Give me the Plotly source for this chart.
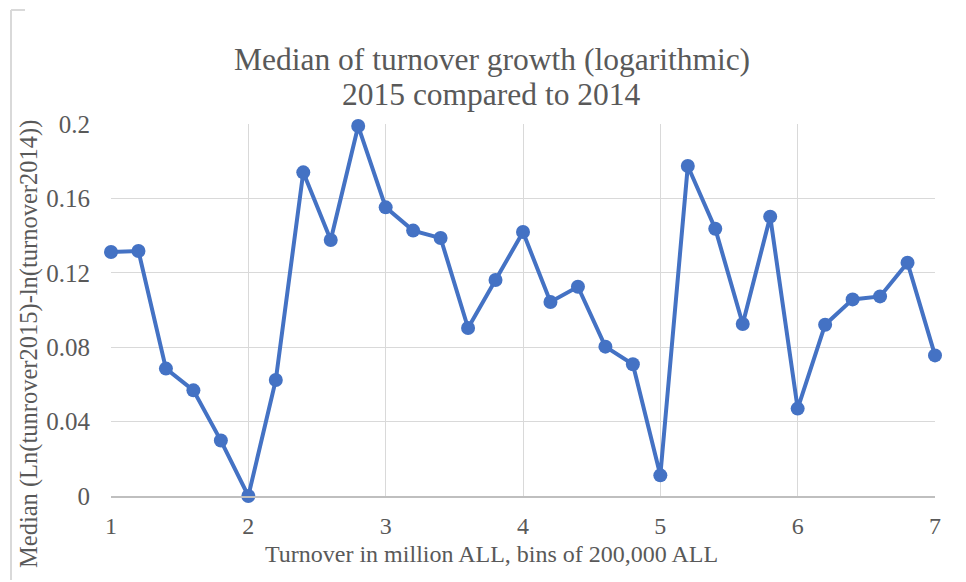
import plotly.graph_objects as go

# Data
bins = [1.0, 1.2, 1.4, 1.6, 1.8, 2.0, 2.2, 2.4, 2.6, 2.8, 3.0, 3.2, 3.4, 3.6, 3.8, 4.0,
        4.2, 4.4, 4.6, 4.8, 5.0, 5.2, 5.4, 5.6, 5.8, 6.0, 6.2, 6.4, 6.6, 6.8, 7.0]
median_growth = [0.1312, 0.1317, 0.0685, 0.0568, 0.0298, 0.0, 0.0624, 0.1740, 0.1376, 0.1989,
                 0.1552, 0.1427, 0.1387, 0.0903, 0.1161, 0.1419, 0.1043, 0.1125, 0.0803, 0.0708,
                 0.0111, 0.1774, 0.1437, 0.0925, 0.1502, 0.0470, 0.0921, 0.1057, 0.1073, 0.1254,
                 0.0756]
x_ticks = [1, 2, 3, 4, 5, 6, 7]
y_ticks = [0, 0.04, 0.08, 0.12, 0.16, 0.2]
y_tick_labels = ["0", "0.04", "0.08", "0.12", "0.16", "0.2"]

title_lines = ["Median of turnover growth (logarithmic)", "2015 compared to 2014"]
x_title = "Turnover in million ALL, bins of 200,000 ALL"
y_title = "Median (Ln(tunrover2015)-ln(turnover2014))"

W, H = 966, 582
L, R, T, B = 111, 31, 124, 86
pw, ph = W - L - R, H - T - B

def px_x(p):
    return (p - L) / pw

def px_y(p):
    return (H - B - p) / ph

FONT = "Liberation Serif"
GRAY = "#595959"
BLUE = "#4472C4"

fig = go.Figure()
fig.add_trace(go.Scatter(
    x=bins, y=median_growth, mode="lines+markers",
    line=dict(color=BLUE, width=4),
    marker=dict(color=BLUE, size=14),
    cliponaxis=False, showlegend=False,
))

fig.update_layout(
    width=W, height=H,
    margin=dict(l=L, r=R, t=T, b=B),
    paper_bgcolor="white", plot_bgcolor="white",
    font=dict(family=FONT, color=GRAY),
    xaxis=dict(range=[1, 7], tickvals=x_ticks, ticktext=[str(v) for v in x_ticks],
               showgrid=True, gridcolor="#D9D9D9", gridwidth=1.3, zeroline=False,
               showline=True, linecolor="#BFBFBF", linewidth=1.5,
               ticks="outside", ticklen=7, tickcolor="rgba(0,0,0,0)",
               tickfont=dict(size=24, color=GRAY, family=FONT)),
    yaxis=dict(range=[0, 0.2], tickvals=y_ticks, ticktext=y_tick_labels,
               showgrid=True, gridcolor="#D9D9D9", gridwidth=1.3, zeroline=False,
               showline=False,
               ticks="outside", ticklen=15, tickcolor="rgba(0,0,0,0)",
               tickfont=dict(size=25, color=GRAY, family=FONT)),
    annotations=[
        dict(text=title_lines[0], xref="paper", yref="paper",
             x=px_x(492), y=px_y(60), xanchor="center", yanchor="middle",
             showarrow=False, font=dict(size=31.5, color=GRAY, family=FONT)),
        dict(text=title_lines[1], xref="paper", yref="paper",
             x=px_x(491), y=px_y(94), xanchor="center", yanchor="middle",
             showarrow=False, font=dict(size=31.5, color=GRAY, family=FONT)),
        dict(text=x_title, xref="paper", yref="paper",
             x=px_x(491), y=px_y(554), xanchor="center", yanchor="middle",
             showarrow=False, font=dict(size=24, color=GRAY, family=FONT)),
        dict(text=y_title, xref="paper", yref="paper", textangle=-90,
             x=px_x(29), y=px_y(344), xanchor="center", yanchor="middle",
             showarrow=False, font=dict(size=24.5, color=GRAY, family=FONT)),
    ],
    shapes=[
        dict(type="line", xref="paper", yref="paper",
             x0=px_x(11), x1=px_x(11), y0=px_y(10), y1=px_y(580),
             line=dict(color="#D9D9D9", width=2)),
        dict(type="line", xref="paper", yref="paper",
             x0=px_x(11), x1=px_x(25), y0=px_y(10), y1=px_y(10),
             line=dict(color="#D9D9D9", width=2)),
    ],
)

fig.write_html("out.html")
